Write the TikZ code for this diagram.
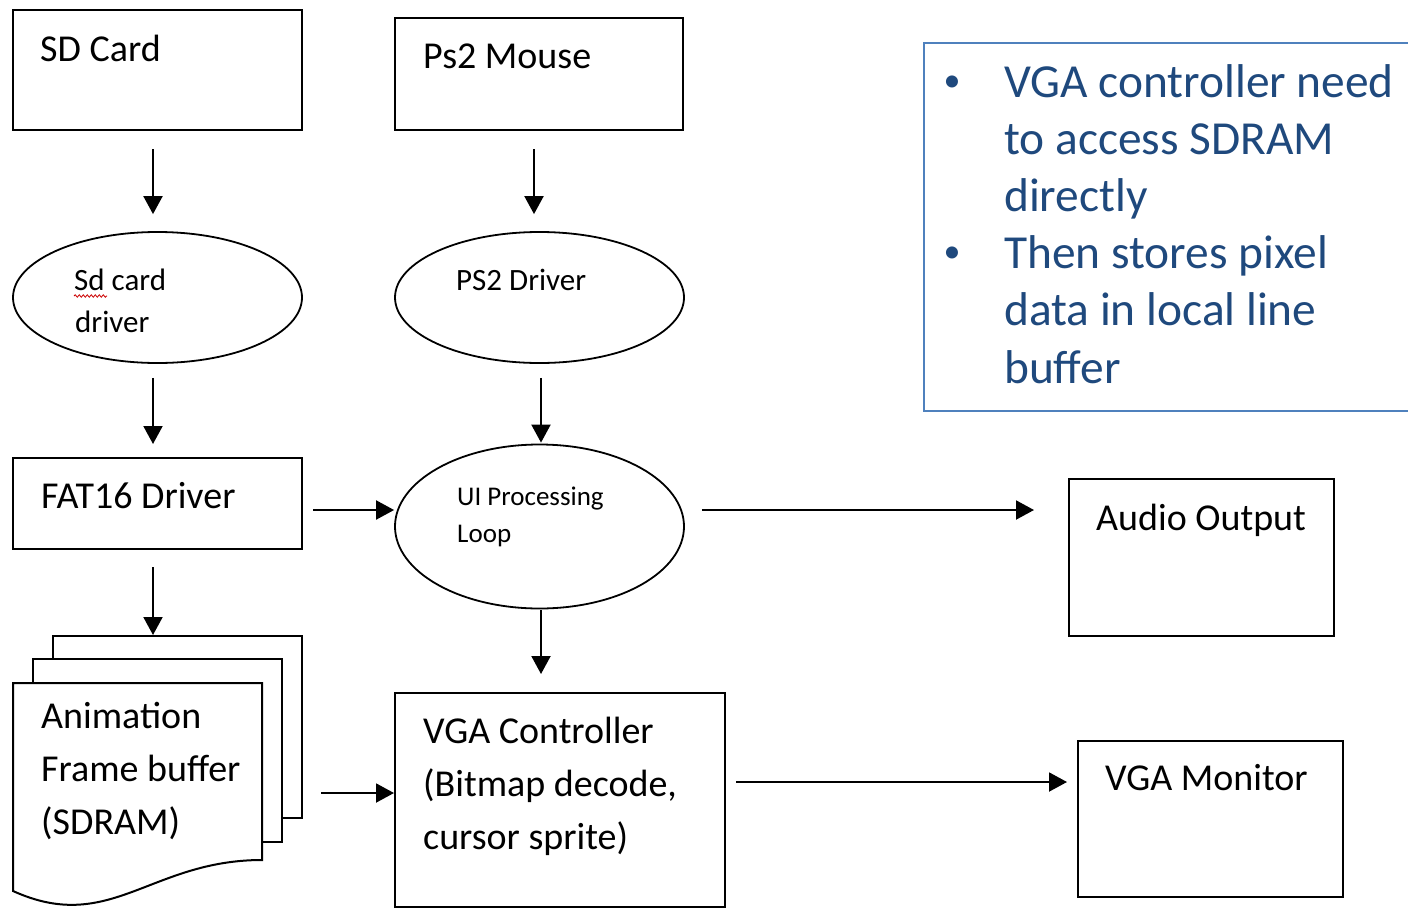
\documentclass[tikz,border=0pt]{standalone}
\usepackage{fontspec}
\setmainfont{Carlito}
\usetikzlibrary{shapes.geometric,arrows.meta,decorations.pathmorphing}
\definecolor{notetext}{HTML}{1F497D}
\definecolor{noteedge}{HTML}{4F81BD}
\begin{document}
\begin{tikzpicture}[x=1pt,y=-1pt,
  box/.style={draw=black, line width=2pt, rectangle, inner sep=0pt},
  ell/.style={draw=black, line width=1.8pt, ellipse, inner sep=0pt},
  arr/.style={line width=2pt, -{Triangle[length=18pt,width=19pt]}},
  lbl/.style={anchor=base west, inner sep=0pt, font=\fontsize{38}{46}\selectfont},
  lblm/.style={anchor=base west, inner sep=0pt, font=\fontsize{31}{38}\selectfont},
  lbls/.style={anchor=base west, inner sep=0pt, font=\fontsize{27}{33}\selectfont},
  notetxt/.style={anchor=base west, inner sep=0pt, text=notetext, font=\fontsize{47.4}{58}\selectfont},
  notebul/.style={anchor=base, inner sep=0pt, text=notetext, font=\fontsize{34}{40}\selectfont}]
\clip (0,0) rectangle (1408,908);
\fill[white] (0,0) rectangle (1408,908);

% boxes
\node[box, minimum width=289pt, minimum height=120pt] (sd) at (157.5,70) {};
\node[box, minimum width=288pt, minimum height=112pt] (ps2) at (539,74) {};
\node[ell, minimum width=289pt, minimum height=131pt] (sdd) at (157.5,297.5) {};
\node[ell, minimum width=289pt, minimum height=131pt] (ps2d) at (539.5,297.5) {};
\node[box, minimum width=289pt, minimum height=91pt] (fat) at (157.5,503.5) {};
\node[ell, minimum width=289pt, minimum height=164pt] (ui) at (539.5,526.5) {};
\node[box, minimum width=265pt, minimum height=157pt] (audio) at (1201.5,557.5) {};
\node[box, minimum width=330pt, minimum height=214pt] (vga) at (560,800) {};
\node[box, minimum width=265pt, minimum height=156pt] (monitor) at (1210.5,819) {};
\node[draw=noteedge, line width=1.5pt, rectangle, inner sep=0pt, minimum width=500pt, minimum height=368pt] (note) at (1174,227) {};

% multi-document
\node[box, fill=white, minimum width=249pt, minimum height=182pt] (pg3) at (177.5,727) {};
\node[box, fill=white, minimum width=249pt, minimum height=183pt] (pg2) at (157.5,750.5) {};
\draw[line width=2pt, fill=white] (13,683) -- (262,683) -- (262,860)
  .. controls (150,860) and (110,935) .. (13,891) -- cycle;

% arrows
\draw[arr, shorten <=18pt, shorten >=17pt] ([xshift=-4.5pt]sd.south) -- ([xshift=-4.5pt]sdd.north);
\draw[arr, shorten <=18pt, shorten >=17pt] ([xshift=-5pt]ps2.south) -- ([xshift=-5.5pt]ps2d.north);
\draw[arr, shorten <=14pt, shorten >=13pt] ([xshift=-4.5pt]sdd.south) -- ([xshift=-4.5pt]fat.north);
\draw[arr, shorten <=14pt, shorten >=1pt] ([xshift=1.5pt]ps2d.south) -- ([xshift=1.5pt]ui.north);
\draw[arr, shorten <=10pt] ([yshift=-6.5pt]fat.east) -- ([yshift=16.5pt]ui.west);
\draw[arr, shorten <=17pt, shorten >=34pt] ([yshift=16.5pt]ui.east) -- ([yshift=47.5pt]audio.west);
\draw[arr, shorten <=17pt] ([xshift=-4.5pt]fat.south) -- ([xshift=-24.5pt]pg3.north);
\draw[arr, shorten <=1pt, shorten >=18pt] ([xshift=1.5pt]ui.south) -- ([xshift=-19pt]vga.north);
\draw[arr, shorten <=18pt] ([yshift=-66pt]pg3.east) -- ([yshift=7pt]vga.west);
\draw[arr, shorten <=10pt, shorten >=10pt] ([yshift=18pt]vga.east) -- ([yshift=37pt]monitor.west);

% labels
\node[lbl] (tsd) at (40,61) {SD Card};
\node[lbl] (tps2) at (423,68) {Ps2 Mouse};
\node[lblm] (tsdd1) at (74,290) {Sd card};
\node[lblm] (tsdd2) at (75,332) {driver};
\draw[red!80!black, line width=0.8pt, decorate, decoration={snake, amplitude=1.2pt, segment length=4pt}]
  ([yshift=-6pt]tsdd1.base west) -- ++(33,0);
\node[lblm] (tps2d) at (456,290) {PS2 Driver};
\node[lbl] (tfat) at (41,508) {FAT16 Driver};
\node[lbls] (tui1) at (457,505) {UI Processing};
\node[lbls] (tui2) at (457,542) {Loop};
\node[lbl] (taud) at (1096,530) {Audio Output};
\node[lbl] (tan1) at (41,728) {Animation};
\node[lbl] (tan2) at (41,781) {Frame buffer};
\node[lbl] (tan3) at (41,834) {(SDRAM)};
\node[lbl] (tv1) at (423,743) {VGA Controller};
\node[lbl] (tv2) at (423,796) {(Bitmap decode,};
\node[lbl] (tv3) at (423,849) {cursor sprite)};
\node[lbl] (tmon) at (1105,790) {VGA Monitor};

% note text
\node[notebul] (b1) at (952,91) {•};
\node[notebul] (b2) at (952,262.6) {•};
\node[notetxt] (n1) at (1004,97) {VGA controller need};
\node[notetxt] (n2) at (1004,154.2) {to access SDRAM};
\node[notetxt] (n3) at (1004,211.4) {directly};
\node[notetxt] (n4) at (1004,268.6) {Then stores pixel};
\node[notetxt] (n5) at (1004,325.8) {data in local line};
\node[notetxt] (n6) at (1004,383) {buffer};
\end{tikzpicture}
\end{document}
